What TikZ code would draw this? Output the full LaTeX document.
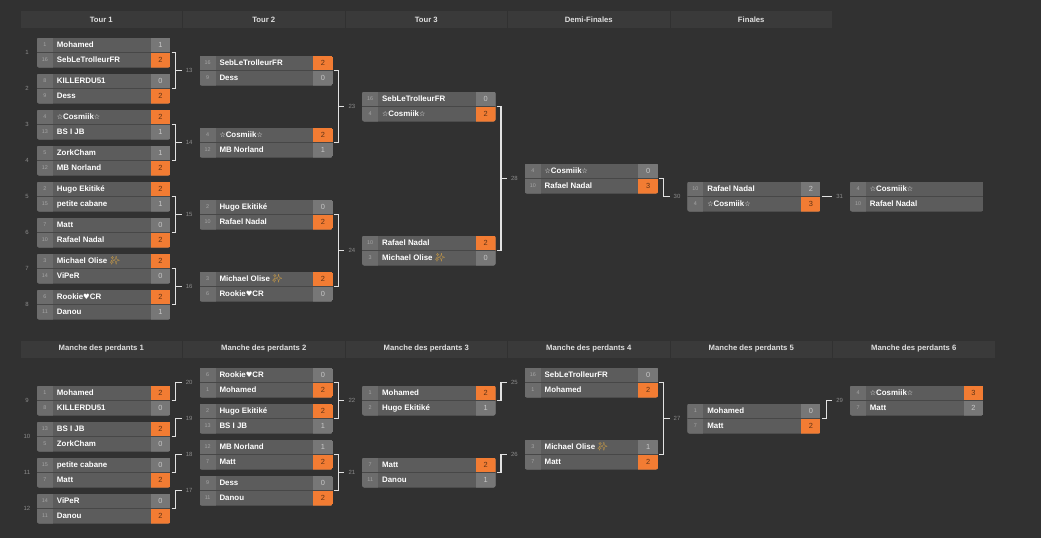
\documentclass[tikz,border=0pt]{standalone}
\usepackage{fontspec}
\setmainfont{Liberation Sans}
\newfontfamily\symf{DejaVu Sans}
\newfontfamily\emo{Noto Emoji}
\definecolor{bg}{HTML}{313131}
\definecolor{hdr}{HTML}{3A3A3A}
\definecolor{namec}{HTML}{5C5C5C}
\definecolor{seedc}{HTML}{6C6C6C}
\definecolor{scorec}{HTML}{777777}
\definecolor{winc}{HTML}{F27C33}
\definecolor{sepc}{HTML}{474747}
\definecolor{brk}{HTML}{E2E2E2}
\definecolor{lblc}{HTML}{8C8C8C}
\definecolor{seedt}{HTML}{A6A6A6}
\definecolor{losetxt}{HTML}{C8C8C8}
\definecolor{wintxt}{HTML}{5E3316}
\definecolor{spark}{HTML}{F5B43C}
\newcommand\Cosm{{\symf\fontsize{7}{7}\selectfont ☆}Cosmiik{\symf\fontsize{7}{7}\selectfont ☆}}
\newcommand\Rook{Rookie{\symf\fontsize{7.4}{7}\selectfont ♥}CR}
\newcommand\Olise{Michael Olise {\emo\color{spark}\fontsize{8.2}{8}\selectfont ✨}}
\tikzset{
  boxn/.style={anchor=north west, minimum width=133.3pt, minimum height=30pt, inner sep=0pt, outer sep=0pt},
  seedtx/.style={font=\fontsize{5.4}{6}\selectfont, text=seedt, inner sep=0pt},
  nametx/.style={font=\fontsize{7.9}{8}\selectfont\bfseries, text=white, inner sep=0pt, anchor=west, text height=5.8pt, text depth=1.6pt},
  scoretx/.style={font=\fontsize{7.4}{8}\selectfont, inner sep=0pt, text height=5.3pt, text depth=0pt},
  lbl/.style={font=\fontsize{6}{7}\selectfont, text=lblc, inner sep=0pt},
  brline/.style={draw=brk, line width=1.2pt},
  hdrbox/.style={fill=hdr, minimum width=161.5pt, minimum height=17pt, inner sep=0pt, font=\fontsize{7.7}{8}\selectfont\bfseries, text=white!88!black}
}
\newcommand\bmatch[9]{%
  \ifnum#8>#9\relax\def\fa{winc}\def\fb{scorec}\def\ta{wintxt}\def\tb{losetxt}%
  \else\def\fa{scorec}\def\fb{winc}\def\ta{losetxt}\def\tb{wintxt}\fi
  \node[boxn] (#1) at (#2,#3) {};
  \begin{scope}
    \clip[rounded corners=2pt] (#1.north west) rectangle (#1.south east);
    \fill[namec] (#1.north west) rectangle (#1.south east);
    \fill[seedc] (#1.north west) rectangle ([xshift=16pt]#1.south west);
    \fill[fill=\fa] ([xshift=-19.7pt]#1.north east) rectangle (#1.east);
    \fill[fill=\fb] ([xshift=-19.7pt]#1.east) rectangle (#1.south east);
    \draw[sepc, line width=0.8pt] (#1.west) -- (#1.east);
  \end{scope}
  \node[seedtx] (#1s1) at ([xshift=8pt,yshift=7.5pt]#1.west) {#4};
  \node[seedtx] (#1s2) at ([xshift=8pt,yshift=-7.5pt]#1.west) {#6};
  \node[nametx] (#1n1) at ([xshift=19.7pt,yshift=7.3pt]#1.west) {#5};
  \node[nametx] (#1n2) at ([xshift=19.7pt,yshift=-7.7pt]#1.west) {#7};
  \node[scoretx, text=\ta] (#1p1) at ([xshift=-9.85pt,yshift=7.5pt]#1.east) {#8};
  \node[scoretx, text=\tb] (#1p2) at ([xshift=-9.85pt,yshift=-7.5pt]#1.east) {#9};
}
\newcommand\gmatch[7]{%
  \node[boxn] (#1) at (#2,#3) {};
  \begin{scope}
    \clip[rounded corners=2pt] (#1.north west) rectangle (#1.south east);
    \fill[namec] (#1.north west) rectangle (#1.south east);
    \fill[seedc] (#1.north west) rectangle ([xshift=16pt]#1.south west);
    \draw[sepc, line width=0.8pt] (#1.west) -- (#1.east);
  \end{scope}
  \node[seedtx] (#1s1) at ([xshift=8pt,yshift=7.5pt]#1.west) {#4};
  \node[seedtx] (#1s2) at ([xshift=8pt,yshift=-7.5pt]#1.west) {#6};
  \node[nametx] (#1n1) at ([xshift=19.7pt,yshift=7.3pt]#1.west) {#5};
  \node[nametx] (#1n2) at ([xshift=19.7pt,yshift=-7.7pt]#1.west) {#7};
}
\newcommand\pairbr[4]{%
  \coordinate (#1r) at ([xshift=5.5pt]#1.east);
  \draw[brline] ([xshift=1.2pt]#1.east) -- (#1r) -- (#1r |- #2.east) -- ([xshift=1.2pt]#2.east);
  \draw[brline] (#1r |- #3.west) -- ++(6,0) node[lbl, anchor=west, xshift=3.5pt] (l#4) {#4};
}
\newcommand\singbr[3]{%
  \coordinate (#1r) at ([xshift=5.5pt]#1.east);
  \draw[brline] ([xshift=1.2pt]#1.east) -- (#1r) -- (#1r |- #2.west) -- ++(6,0) node[lbl, anchor=west, xshift=3.5pt] (l#3) {#3};
}
\begin{document}
\begin{tikzpicture}[x=1pt,y=-1pt]
\fill[bg] (0,0) rectangle (1041,538);
\useasboundingbox (0,0) rectangle (1041,538);
% headers
\node[hdrbox] (h1) at (101.25,19.5) {Tour 1};
\node[hdrbox] (h2) at (263.75,19.5) {Tour 2};
\node[hdrbox] (h3) at (426.25,19.5) {Tour 3};
\node[hdrbox] (h4) at (588.75,19.5) {Demi-Finales};
\node[hdrbox] (h5) at (751.25,19.5) {Finales};
\node[hdrbox] (g1) at (101.25,349) {Manche des perdants 1};
\node[hdrbox] (g2) at (263.75,349) {Manche des perdants 2};
\node[hdrbox] (g3) at (426.25,349) {Manche des perdants 3};
\node[hdrbox] (g4) at (588.75,349) {Manche des perdants 4};
\node[hdrbox] (g5) at (751.25,349) {Manche des perdants 5};
\node[hdrbox] (g6) at (913.75,349) {Manche des perdants 6};
% winners bracket
\bmatch{m1}{37}{37.5}{1}{Mohamed}{16}{SebLeTrolleurFR}{1}{2}
\bmatch{m2}{37}{73.5}{8}{KILLERDU51}{9}{Dess}{0}{2}
\bmatch{m3}{37}{109.5}{4}{\Cosm}{13}{BS I JB}{2}{1}
\bmatch{m4}{37}{145.5}{5}{ZorkCham}{12}{MB Norland}{1}{2}
\bmatch{m5}{37}{181.5}{2}{Hugo Ekitiké}{15}{petite cabane}{2}{1}
\bmatch{m6}{37}{217.5}{7}{Matt}{10}{Rafael Nadal}{0}{2}
\bmatch{m7}{37}{253.5}{3}{\Olise}{14}{ViPeR}{2}{0}
\bmatch{m8}{37}{289.5}{6}{\Rook}{11}{Danou}{2}{1}
\bmatch{m13}{199.6}{55.5}{16}{SebLeTrolleurFR}{9}{Dess}{2}{0}
\bmatch{m14}{199.6}{127.5}{4}{\Cosm}{12}{MB Norland}{2}{1}
\bmatch{m15}{199.6}{199.5}{2}{Hugo Ekitiké}{10}{Rafael Nadal}{0}{2}
\bmatch{m16}{199.6}{271.5}{3}{\Olise}{6}{\Rook}{2}{0}
\bmatch{m23}{362.2}{91.5}{16}{SebLeTrolleurFR}{4}{\Cosm}{0}{2}
\bmatch{m24}{362.2}{235.5}{10}{Rafael Nadal}{3}{\Olise}{2}{0}
\bmatch{m28}{524.8}{163.5}{4}{\Cosm}{10}{Rafael Nadal}{0}{3}
\bmatch{m30}{687.4}{181.5}{10}{Rafael Nadal}{4}{\Cosm}{2}{3}
\gmatch{m31}{850}{181.5}{4}{\Cosm}{10}{Rafael Nadal}
% losers bracket
\bmatch{m9}{37}{385.5}{1}{Mohamed}{8}{KILLERDU51}{2}{0}
\bmatch{m10}{37}{421.5}{13}{BS I JB}{5}{ZorkCham}{2}{0}
\bmatch{m11}{37}{457.5}{15}{petite cabane}{7}{Matt}{0}{2}
\bmatch{m12}{37}{493.5}{14}{ViPeR}{11}{Danou}{0}{2}
\bmatch{m20}{199.6}{367.5}{6}{\Rook}{1}{Mohamed}{0}{2}
\bmatch{m19}{199.6}{403.5}{2}{Hugo Ekitiké}{13}{BS I JB}{2}{1}
\bmatch{m18}{199.6}{439.5}{12}{MB Norland}{7}{Matt}{1}{2}
\bmatch{m17}{199.6}{475.5}{9}{Dess}{11}{Danou}{0}{2}
\bmatch{m22}{362.2}{385.5}{1}{Mohamed}{2}{Hugo Ekitiké}{2}{1}
\bmatch{m21}{362.2}{457.5}{7}{Matt}{11}{Danou}{2}{1}
\bmatch{m25}{524.8}{367.5}{16}{SebLeTrolleurFR}{1}{Mohamed}{0}{2}
\bmatch{m26}{524.8}{439.5}{3}{\Olise}{7}{Matt}{1}{2}
\bmatch{m27}{687.4}{403.5}{1}{Mohamed}{7}{Matt}{0}{2}
\bmatch{m29}{850}{385.5}{4}{\Cosm}{7}{Matt}{3}{2}
% round labels
\node[lbl] (r1) at ([xshift=-10pt]m1.west) {1};
\node[lbl] (r2) at ([xshift=-10pt]m2.west) {2};
\node[lbl] (r3) at ([xshift=-10pt]m3.west) {3};
\node[lbl] (r4) at ([xshift=-10pt]m4.west) {4};
\node[lbl] (r5) at ([xshift=-10pt]m5.west) {5};
\node[lbl] (r6) at ([xshift=-10pt]m6.west) {6};
\node[lbl] (r7) at ([xshift=-10pt]m7.west) {7};
\node[lbl] (r8) at ([xshift=-10pt]m8.west) {8};
\node[lbl] (r9) at ([xshift=-10pt]m9.west) {9};
\node[lbl] (r10) at ([xshift=-10pt]m10.west) {10};
\node[lbl] (r11) at ([xshift=-10pt]m11.west) {11};
\node[lbl] (r12) at ([xshift=-10pt]m12.west) {12};
% connectors
\pairbr{m1}{m2}{m13}{13}
\pairbr{m3}{m4}{m14}{14}
\pairbr{m5}{m6}{m15}{15}
\pairbr{m7}{m8}{m16}{16}
\pairbr{m13}{m14}{m23}{23}
\pairbr{m15}{m16}{m24}{24}
\pairbr{m23}{m24}{m28}{28}
\singbr{m28}{m30}{30}
\singbr{m30}{m31}{31}
\singbr{m9}{m20}{20}
\singbr{m10}{m19}{19}
\singbr{m11}{m18}{18}
\singbr{m12}{m17}{17}
\pairbr{m20}{m19}{m22}{22}
\pairbr{m18}{m17}{m21}{21}
\singbr{m22}{m25}{25}
\singbr{m21}{m26}{26}
\pairbr{m25}{m26}{m27}{27}
\singbr{m27}{m29}{29}
\end{tikzpicture}
\end{document}
